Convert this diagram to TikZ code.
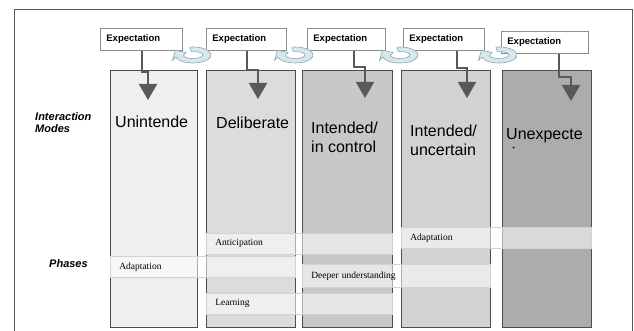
\documentclass[tikz,border=0pt]{standalone}
\usepackage{fontspec}
\setmainfont{Liberation Serif}
\setsansfont{Liberation Sans}
\usepackage{tikz}
\usetikzlibrary{arrows.meta}

\definecolor{modeA}{HTML}{EFEFEF}
\definecolor{modeB}{HTML}{DCDCDC}
\definecolor{modeC}{HTML}{C8C8C8}
\definecolor{modeD}{HTML}{D2D2D2}
\definecolor{modeE}{HTML}{ACACAC}
\definecolor{ringfill}{HTML}{D6E8EE}
\definecolor{ringline}{HTML}{8AA4B0}

\begin{document}
\begin{tikzpicture}[x=1pt,y=-1pt,
			every node/.style={inner sep=0pt},
			frame/.style={draw=black!65,line width=.8pt},
			modecol/.style={draw=black!70,line width=.9pt,minimum height=257pt,anchor=north west},
			modetext/.style={font=\sffamily\fontsize{16}{19}\selectfont,align=left,anchor=north west},
			sidetext/.style={font=\sffamily\bfseries\itshape\fontsize{11}{12.5}\selectfont,align=left},
			expbox/.style={draw=black!45,fill=white,line width=.8pt,inner xsep=6pt,minimum height=22pt,
				anchor=north west,font=\sffamily\bfseries\fontsize{9.5}{11}\selectfont},
			phase/.style={draw=gray!35,line width=.6pt,fill=white,fill opacity=.55,text opacity=1,
				inner xsep=9pt,minimum height=21pt,anchor=north west,font=\rmfamily\fontsize{9.5}{11}\selectfont},
			flow/.style={draw=black!65,line width=2pt,-{Triangle[width=18pt,length=16pt]}},
			ring/.style={fill=ringfill,draw=ringline,line width=.6pt}]
	\useasboundingbox (0,0) rectangle (634,331);
	\draw[frame] (14,9) rectangle (632,345);

	% interaction modes
	\foreach \i/\x/\w/\c in {1/110/87/modeA,2/206/89/modeB,3/302/90/modeC,4/401/89/modeD,5/502/89/modeE}
		\node[modecol,fill=\c,minimum width=\w pt] (col\i) at (\x,70) {};

	\node[modetext] (m1) at (115,116) {Unintende};
	\node[modetext] (m2) at (216,117) {Deliberate};
	\node[modetext] (m3) at (311,122) {Intended/\\in control};
	\node[modetext] (m4) at (410,125) {Intended/\\uncertain};
	\node[modetext] (m5) at (506,128) {Unexpecte};
	\fill (513.5,147.5) circle (1pt);

	\node[sidetext,anchor=north west] (modes) at (35,112) {Interaction\\Modes};
	\node[sidetext,anchor=base west] (phases) at (49,267) {Phases};

	% phases
	\node[phase,minimum width=186pt,text width=168pt] (ph1) at (206,233) {Anticipation};
	\node[phase,minimum width=190pt,text width=172pt] (ph2) at (401,227) {Adaptation};
	\node[phase,minimum width=185pt,text width=167pt] (ph3) at (110,256) {Adaptation};
	\node[phase,minimum width=188pt,text width=170pt,minimum height=23pt] (ph4) at (302,264) {Deeper understanding};
	\node[phase,minimum width=186pt,text width=168pt] (ph5) at (206,293) {Learning};

	% expectations
	\foreach \i/\x/\y/\w in {1/100/28/70,2/206/28/68,3/307/28/66,4/403/28/69,5/501/31/75}
		\node[expbox,text width=\w pt] (exp\i) at (\x,\y) {Expectation};

	\foreach \i/\lx/\jy/\hx/\ty in {1/142/72/148/100,2/247/70/258/99,3/354/67/365/98,4/457/68/467/98,5/559/77/571/101}
	{
		\coordinate (tip\i) at (\hx,\ty);
		\draw[flow] (exp\i.south -| \lx,0) |- (\hx,\jy) -- (tip\i);
	}

	% cycle arrows
	\foreach \cx in {193,295,400,499}
		\filldraw[ring,shift={(\cx,55)}] (-100:18 and 8) arc[start angle=-100,end angle=165,x radius=18,y radius=8]
			-- (-20.5,5.5) -- (-17.6,-4.8) -- (-7,-2.5) -- (165:10 and 3.5)
			arc[start angle=165,end angle=-100,x radius=10,y radius=3.5] -- cycle;
\end{tikzpicture}
\end{document}
